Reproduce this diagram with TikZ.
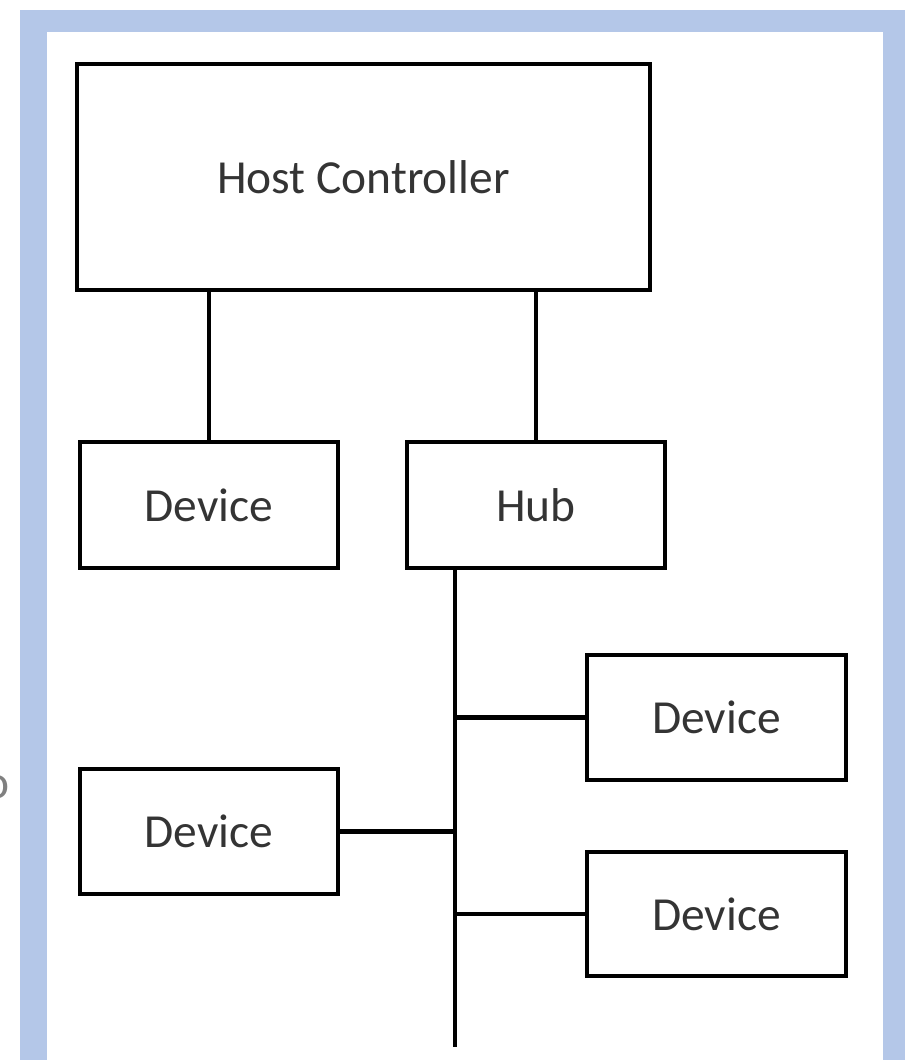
\documentclass[tikz,border=0pt]{standalone}
\usepackage{fontspec}
\setmainfont{Carlito}
\definecolor{moldura}{RGB}{180,199,232}
\definecolor{texto}{RGB}{52,52,52}
\tikzset{
  caixa/.style={draw,line width=2.3pt,text=texto,inner sep=0pt,
    font=\fontsize{27}{32}\selectfont},
  liga/.style={line width=2.3pt}
}
\begin{document}
\begin{tikzpicture}[x=0.02cm,y=-0.02cm]
    \useasboundingbox (0,0) rectangle (914,1060);
    % Moldura azul
    \fill[moldura] (20,10) rectangle (905,32);
    \fill[moldura] (20,10) rectangle (47,1060);
    \fill[moldura] (883,10) rectangle (905,1060);
    % Letra cortada na margem
    \node[inner sep=0pt,text=gray,font=\fontsize{27}{32}\selectfont] (resto) at (-2.5,787) {o};
    % Controlador
    \node[caixa,minimum width=11.46cm,minimum height=4.52cm] (host) at (363.5,177) {Host Controller};
    % Segunda linha
    \node[caixa,minimum width=5.16cm,minimum height=2.52cm] (disp1) at (209,505) {Device};
    \node[caixa,minimum width=5.16cm,minimum height=2.52cm] (hub) at (536,505) {Hub};
    % Dispositivos no barramento
    \node[caixa,minimum width=5.18cm,minimum height=2.5cm] (disp2) at (716.5,717.5) {Device};
    \node[caixa,minimum width=5.16cm,minimum height=2.5cm] (disp3) at (209,831.5) {Device};
    \node[caixa,minimum width=5.18cm,minimum height=2.48cm] (disp4) at (716.5,914) {Device};
    % Ligacoes ao controlador
    \draw[liga] (disp1.north) -- (disp1.north |- host.south);
    \draw[liga] (hub.north) -- (host.south -| hub.north);
    % Barramento do hub
    \coordinate (fim) at (455,1047);
    \draw[liga] (hub.south -| fim) -- (fim);
    \draw[liga] (disp2.west) -- (disp2.west -| fim);
    \draw[liga] (disp3.east) -- (disp3.east -| fim);
    \draw[liga] (disp4.west) -- (disp4.west -| fim);
\end{tikzpicture}
\end{document}
